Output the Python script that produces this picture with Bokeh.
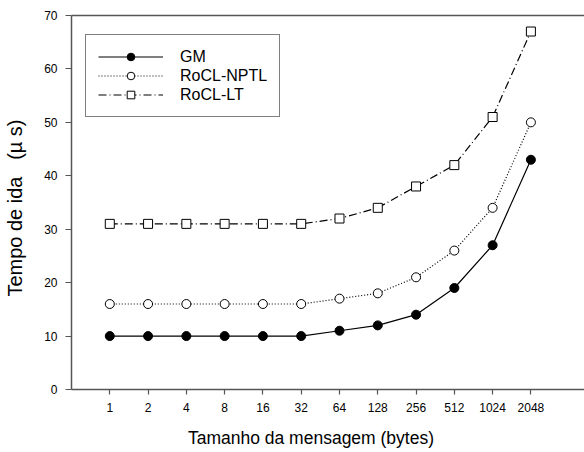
from bokeh.plotting import figure
from bokeh.models import Range1d, FixedTicker, LinearAxis, Legend, LegendItem, ColumnDataSource
from bokeh.embed import file_html
from bokeh.resources import INLINE

sizes = ["1", "2", "4", "8", "16", "32", "64", "128", "256", "512", "1024", "2048"]
gm = [10, 10, 10, 10, 10, 10, 11, 12, 14, 19, 27, 43]
rocl_nptl = [16, 16, 16, 16, 16, 16, 17, 18, 21, 26, 34, 50]
rocl_lt = [31, 31, 31, 31, 31, 31, 32, 34, 38, 42, 51, 67]
y_ticks = [0, 10, 20, 30, 40, 50, 60, 70]

xpos = list(range(1, len(sizes) + 1))
FONT = "Liberation Sans"
AX = "#555555"
NB = "\u00a0"

p = figure(width=584, height=452, output_backend="svg", toolbar_location=None,
           x_range=Range1d(0, 13.4), y_range=Range1d(0, 70),
           min_border_left=71, min_border_right=0, min_border_top=15, min_border_bottom=63)
p.outline_line_color = None
p.grid.grid_line_color = None
p.background_fill_color = "white"

src = ColumnDataSource(dict(x=xpos, gm=gm, nptl=rocl_nptl, lt=rocl_lt))

l1 = p.line("x", "gm", source=src, line_color="black", line_width=1.2)
s1 = p.scatter("x", "gm", source=src, marker="circle", size=9, fill_color="black", line_color="black")
l2 = p.line("x", "nptl", source=src, line_color="black", line_width=1.2, line_dash="1 2")
s2 = p.scatter("x", "nptl", source=src, marker="circle", size=9, fill_color="white", line_color="black")
l3 = p.line("x", "lt", source=src, line_color="black", line_width=1.2, line_dash="8 3 1 3")
s3 = p.scatter("x", "lt", source=src, marker="square", size=9, fill_color="white", line_color="black")

# axes
xa = p.xaxis[0]
xa.ticker = FixedTicker(ticks=xpos)
xa.major_label_overrides = {x: s for x, s in zip(xpos, sizes)}
xa.axis_label = "Tamanho da mensagem (bytes)" + NB * 7
ya = p.yaxis[0]
ya.ticker = FixedTicker(ticks=y_ticks)
ya.axis_label = "Tempo de ida" + NB * 3 + "(\u00b5" + NB + "s)" + NB * 2

for ax in (xa, ya):
    ax.axis_line_color = AX
    ax.axis_line_width = 1.5
    ax.major_tick_line_color = AX
    ax.major_tick_line_width = 1.2
    ax.major_tick_in = 0
    ax.minor_tick_line_color = None
    ax.major_label_text_font = FONT
    ax.major_label_text_font_size = "12px"
    ax.major_label_text_color = "black"
    ax.axis_label_text_font = FONT
    ax.axis_label_text_font_style = "normal"
    ax.axis_label_text_color = "black"
xa.axis_label_text_font_size = "17.5px"
ya.axis_label_text_font_size = "20px"
xa.major_tick_out = 5
ya.major_tick_out = 6
xa.major_label_standoff = 8
xa.axis_label_standoff = 13
ya.major_label_standoff = 8
ya.axis_label_standoff = 15

top = LinearAxis(ticker=FixedTicker(ticks=[]), axis_line_color=AX, axis_line_width=1.5,
                 major_tick_line_color=None, minor_tick_line_color=None,
                 major_label_text_font_size="0px")
p.add_layout(top, "above")

legend = Legend(items=[
    LegendItem(label="GM", renderers=[l1, s1]),
    LegendItem(label="RoCL-NPTL", renderers=[l2, s2]),
    LegendItem(label="RoCL-LT", renderers=[l3, s3]),
], location=(14, 272))
legend.border_line_color = "black"
legend.border_line_width = 1
legend.background_fill_alpha = 1
legend.padding = 12
legend.spacing = 0
legend.glyph_width = 65
legend.glyph_height = 19
legend.label_standoff = 17
legend.label_text_font = FONT
legend.label_text_font_size = "16px"
legend.label_text_color = "black"
legend.margin = 0
p.add_layout(legend, "center")

open("out.html", "w").write(file_html(p, INLINE))
